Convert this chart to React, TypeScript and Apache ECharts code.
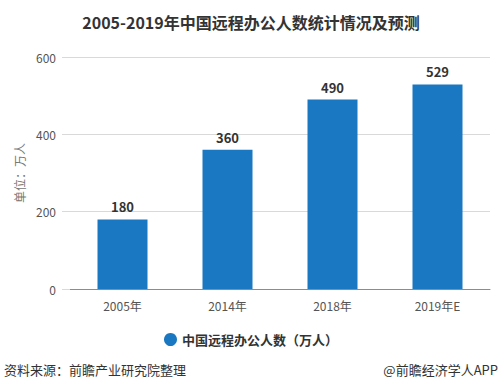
import React, { useEffect, useRef } from "react";
import * as echarts from "echarts";

const categories = ["2005年", "2014年", "2018年", "2019年E"];
const values = [180, 360, 490, 529];
const seriesName = "中国远程办公人数（万人）";
const titleText = "2005-2019年中国远程办公人数统计情况及预测";
const unitText = "单位：万人";
const sourceText = "资料来源：前瞻产业研究院整理";
const brandText = "@前瞻经济学人APP";

const FONT = "'Noto Sans CJK SC', 'Noto Sans', sans-serif";

export default function App() {
  const ref = useRef<HTMLDivElement>(null);
  useEffect(() => {
    if (!ref.current) return;
    const chart = echarts.init(ref.current, null, { renderer: "svg" });
    chart.setOption({
      animation: false,
      backgroundColor: "#ffffff",
      textStyle: { fontFamily: FONT },
      title: {
        text: titleText,
        left: "center",
        top: 9,
        textStyle: { fontSize: 16, fontWeight: "bold", color: "#333333", fontFamily: FONT },
      },
      legend: {
        bottom: 40,
        left: "center",
        icon: "circle",
        itemWidth: 13,
        itemHeight: 13,
        textStyle: { fontSize: 13, fontWeight: "bold", color: "#333333", fontFamily: FONT },
        data: [seriesName],
      },
      grid: { left: 70, right: 12, top: 57, bottom: 102 },
      xAxis: {
        type: "category",
        data: categories,
        axisLine: { lineStyle: { color: "#8c8c8c" } },
        axisTick: { alignWithLabel: true, lineStyle: { color: "#8c8c8c" } },
        axisLabel: { color: "#555555", fontSize: 12, margin: 10, fontFamily: FONT },
      },
      yAxis: {
        type: "value",
        min: 0,
        max: 600,
        interval: 200,
        name: unitText,
        nameLocation: "middle",
        nameGap: 42,
        nameTextStyle: { color: "#777777", fontSize: 12, fontFamily: FONT },
        axisLine: { show: false },
        axisTick: { show: true, length: 8, lineStyle: { color: "#d9d9d9" } },
        axisLabel: { color: "#555555", fontSize: 12, margin: 14, fontFamily: FONT },
        splitLine: { lineStyle: { color: "#d9d9d9" } },
      },
      series: [
        {
          name: seriesName,
          type: "bar",
          data: values,
          barWidth: 50,
          itemStyle: { color: "#1a78c2" },
          label: {
            show: true,
            position: "top",
            distance: 6,
            color: "#333333",
            fontWeight: "bold",
            fontSize: 13,
            fontFamily: FONT,
          },
        },
      ],
      graphic: [
        {
          type: "text",
          left: 4,
          top: 363,
          style: { text: sourceText, fill: "#333333", fontSize: 13, fontFamily: FONT },
        },
        {
          type: "text",
          right: 4,
          top: 363,
          style: { text: brandText, fill: "#333333", fontSize: 13, fontFamily: FONT },
        },
      ],
    });
    return () => chart.dispose();
  }, []);
  return <div ref={ref} style={{ width: 502, height: 391, position: "fixed", left: 0, top: 0 }} />;
}
